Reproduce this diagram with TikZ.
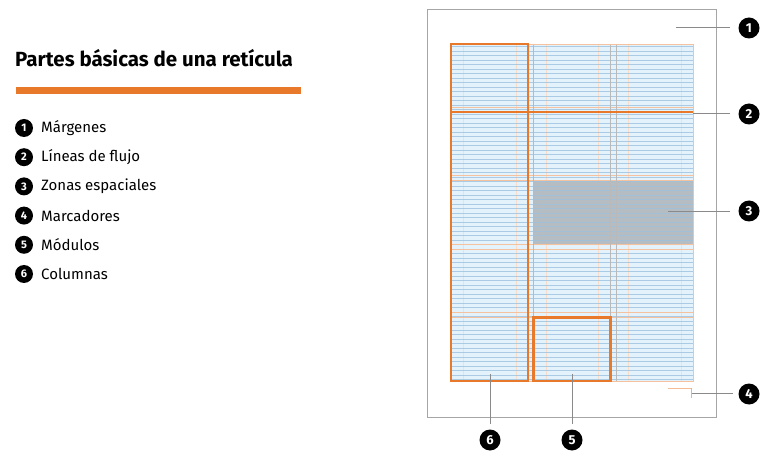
\documentclass[tikz,border=0pt]{standalone}
\usepackage{fontspec}
\setmainfont{Fira Sans}
\definecolor{org}{HTML}{E8782A}
\definecolor{gridblue}{HTML}{E4F2FB}
\definecolor{baseln}{HTML}{9CC2DD}
\definecolor{zonegrey}{HTML}{B5BCC2}
\definecolor{leader}{HTML}{8A8A8A}
\tikzset{
  num/.style={circle, fill=black, text=white, inner sep=0pt, minimum size=21pt,
    font=\bfseries\fontsize{13}{13}\selectfont},
  lnum/.style={circle, fill=black, text=white, inner sep=0pt, minimum size=18pt,
    font=\bfseries\fontsize{11}{11}\selectfont},
  legtext/.style={anchor=west, inner sep=0pt, font=\fontsize{15}{15}\selectfont},
  leaderln/.style={draw=leader, line width=0.8pt},
  colbox/.style={draw=org, line width=2.2pt},
  rowln/.style={draw=org!45, line width=0.6pt},
  colln/.style={draw=gray!55, line width=0.6pt},
  inner/.style={draw=org!25, line width=0.5pt},
}
\begin{document}
\begin{tikzpicture}[x=1pt,y=-1pt]
\useasboundingbox (0,0) rectangle (763,454);
% ---- left side
\node[anchor=west, inner sep=0pt, font=\fontsize{20.5}{20.5}\selectfont\bfseries] (title) at (15,58) {Partes básicas de una retícula};
\fill[org] (16,87) rectangle (301,94);
\foreach \i/\t [count=\k] in {1/Márgenes,2/Líneas de flujo,3/Zonas espaciales,4/Marcadores,5/Módulos,6/Columnas}{
  \node[lnum] (l\i) at (24,{128+29.2*(\k-1)}) {\i};
  \node[legtext] (t\i) at (41,{128+29.2*(\k-1)}) {\t};
}
% ---- page
\draw[gray!70, line width=0.9pt] (427,9) rectangle (716,417);
% grid area
\fill[gridblue] (451,44) rectangle (693,381);
% inner faint verticals
\foreach \x in {463,516,546,598,628,681}{
  \draw[inner] (\x,44) -- (\x,381);
}
\fill[zonegrey] (533.5,180.8) rectangle (693,244.2);
\foreach \y in {46.5,51,...,380}{
  \draw[baseln, line width=0.45pt, opacity=0.8] (451,\y) -- (693,\y);
}
% rows
\foreach \t in {44,112.4,180.8,249.2,317.6}{
  \draw[rowln] (451,\t) -- (693,\t);
  \draw[rowln] (451,\t+63.4) -- (693,\t+63.4);
}
% columns
\foreach \x in {528,533.5,610.5,616,693}{
  \draw[colln] (\x,44) -- (\x,381);
}
\draw[rowln] (451,44) rectangle (693,381);
% column box, flow line, module
\draw[colbox] (451,112) -- (693,112);
\draw[colbox] (451,44) rectangle (528,381);
\draw[colbox] (533.5,317.6) rectangle (610.5,381);
% marker
\draw[org!50, line width=0.7pt] (668,388) -- (691,388);
\draw[gray!50, line width=0.6pt] (691,388) -- (691,398);
% ---- number callouts
\node[num] (n1) at (749,28) {1};
\node[num] (n2) at (749,114) {2};
\node[num] (n3) at (749,211) {3};
\node[num] (n4) at (749,394) {4};
\node[num] (n6) at (490,440) {6};
\node[num] (n5) at (572,440) {5};
\coordinate (c1) at (676,27);
\coordinate (c2) at (693,113);
\coordinate (c3) at (668,211);
\coordinate (c4) at (692,393);
\coordinate (c6) at (490,374);
\coordinate (c5) at (572,374);
\draw[leaderln] (c1) -- ([xshift=-8pt]n1.west |- c1);
\draw[leaderln] (c2) -- ([xshift=-8pt]n2.west |- c2);
\draw[leaderln] (c3) -- ([xshift=-8pt]n3.west |- c3);
\draw[leaderln] (c4) -- ([xshift=-5pt]n4.west |- c4);
\draw[leaderln] (c6) -- ([yshift=5pt]n6.north);
\draw[leaderln] (c5) -- ([yshift=5pt]n5.north);
\end{tikzpicture}
\end{document}
